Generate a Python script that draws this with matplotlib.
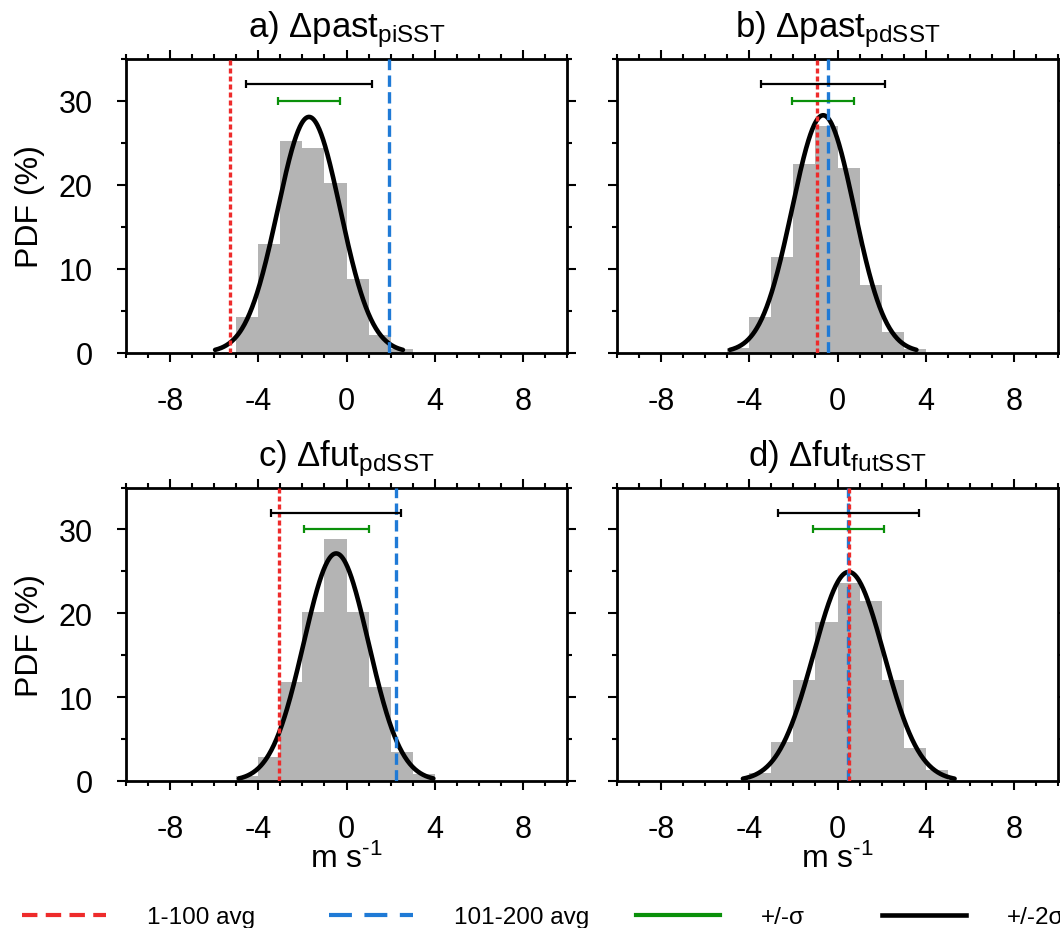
import numpy as np
import matplotlib
matplotlib.use('Agg')
import matplotlib.pyplot as plt
from matplotlib.lines import Line2D
from matplotlib.ticker import MultipleLocator

plt.rcParams['font.family'] = ['Liberation Sans', 'DejaVu Sans']
plt.rcParams['mathtext.fontset'] = 'custom'
plt.rcParams['mathtext.rm'] = 'Liberation Sans'
plt.rcParams['mathtext.it'] = 'Liberation Sans:italic'
plt.rcParams['axes.unicode_minus'] = False

# ---------------- data ----------------
titles = ['a) Δpast$_{\\mathrm{piSST}}$', 'b) Δpast$_{\\mathrm{pdSST}}$',
          'c) Δfut$_{\\mathrm{pdSST}}$', 'd) Δfut$_{\\mathrm{futSST}}$']

# histogram: first bin left edge (bin width 1 m/s) and PDF values (%)
hist_start = [-5, -5, -5, -4]
hist_a = [4.2, 12.9, 25.2, 24.4, 20.2, 8.8, 2.1, 0.4]
hist_b = [0.5, 4.2, 11.4, 22.5, 27.0, 22.0, 8.0, 2.4, 0.4]
hist_c = [0.56, 2.86, 11.8, 20.1, 28.8, 20.1, 11.2, 3.45, 0.83]
hist_d = [0.95, 4.7, 12.1, 19.0, 23.6, 21.5, 12.1, 3.9, 1.3]
hists = [hist_a, hist_b, hist_c, hist_d]

# fitted normal distribution parameters
means = [-1.70, -0.65, -0.47, 0.51]
sigmas = [1.42, 1.41, 1.47, 1.60]

# averages of members 1-100 and 101-200
avg_1_100 = [-5.27, -0.91, -3.05, 0.53]
avg_101_200 = [1.92, -0.41, 2.24, 0.47]

xticks = [-8, -4, 0, 4, 8]
yticks = [0, 10, 20, 30]

legend_labels = ['1-100 avg', '101-200 avg', '+/-σ', '+/-2σ']

RED = '#ee2b2b'
BLUE = '#1f7ad6'
GREEN = '#0a900a'
GRAY = '#b4b4b4'

# ---------------- figure ----------------
fig = plt.figure(figsize=(10.6, 9.29), dpi=100)
FW, FH = 1060.0, 929.0
positions = [(126, 60), (617, 60), (126, 488.5), (617, 488.5)]
W, H = 441.0, 293.5

for i in range(4):
    left, top = positions[i]
    ax = fig.add_axes([left / FW, 1 - (top + H) / FH, W / FW, H / FH])

    heights = hists[i]
    edges = hist_start[i] + np.arange(len(heights))
    ax.bar(edges, heights, width=1.0, align='edge', color=GRAY,
           linewidth=0, zorder=1)

    m, s = means[i], sigmas[i]
    xx = np.linspace(m - 3 * s, m + 3 * s, 300)
    yy = 100.0 * np.exp(-0.5 * ((xx - m) / s) ** 2) / (s * np.sqrt(2 * np.pi))
    ax.plot(xx, yy, color='black', lw=3.3, solid_capstyle='round', zorder=3)

    ax.axvline(avg_101_200[i], color=BLUE, lw=2.4, ls=(0, (3.4, 1.6)), zorder=4)
    ax.axvline(avg_1_100[i], color=RED, lw=2.4, ls=(0, (1.5, 0.9)), zorder=5)

    ax.errorbar([m], [32], xerr=[2 * s], color='black', lw=1.6,
                capsize=3, capthick=1.6, zorder=6)
    ax.errorbar([m], [30], xerr=[s], color=GREEN, lw=1.6,
                capsize=3, capthick=1.6, zorder=6)

    ax.set_xlim(-10, 10)
    ax.set_ylim(0, 35)
    ax.set_xticks(xticks)
    ax.set_xticklabels([str(t) for t in xticks])
    ax.set_yticks(yticks)
    ax.set_yticklabels([str(t) for t in yticks])
    ax.xaxis.set_minor_locator(MultipleLocator(1))
    ax.yaxis.set_minor_locator(MultipleLocator(5))
    ax.tick_params(which='both', direction='out', top=True, right=True,
                   width=1.5, labelsize=22, pad=17)
    ax.tick_params(which='major', length=6.8)
    ax.tick_params(which='minor', length=3.6)
    for sp in ax.spines.values():
        sp.set_linewidth(2.0)

    ax.set_title(titles[i], fontsize=25, y=1.0, pad=16)

    if i % 2 == 0:
        ax.set_ylabel('PDF (%)', fontsize=23)
        ax.yaxis.set_label_coords(-0.184, 0.5)
    else:
        ax.tick_params(labelleft=False)

    if i >= 2:
        ax.set_xlabel('m s$^{\\mathrm{\u2010}1}$', fontsize=23)
        ax.xaxis.set_label_coords(0.5, -0.21)

# ---------------- legend ----------------
handles = [
    Line2D([], [], color=RED, lw=3.0, ls=(0, (3.7, 2.0))),
    Line2D([], [], color=BLUE, lw=3.0, ls=(0, (5.5, 3.0))),
    Line2D([], [], color=GREEN, lw=3.0),
    Line2D([], [], color='black', lw=3.3),
]
leg_x = [22, 329, 636, 882]
for h, lab, x in zip(handles, legend_labels, leg_x):
    fig.legend(handles=[h], labels=[lab], loc='center left',
               bbox_to_anchor=(x / FW, 1 - 918 / FH), frameon=False,
               fontsize=17.5, handlelength=3.45, handletextpad=1.7,
               borderpad=0, borderaxespad=0)

fig.savefig('out.png', dpi=100)
